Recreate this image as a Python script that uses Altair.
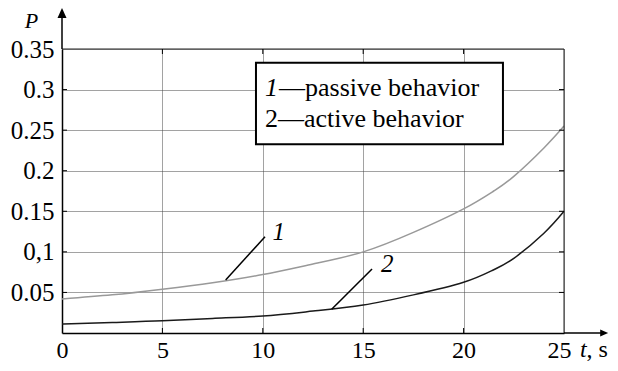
import altair as alt
import pandas as pd

# ---- data ----
t_vals = [0, 2.5, 5, 7.5, 10, 12.5, 15, 17.5, 20, 21.5, 22.5, 24, 25]
passive = [0.042, 0.047, 0.054, 0.062, 0.072, 0.085, 0.100, 0.124, 0.153, 0.175, 0.193, 0.228, 0.255]
active = [0.011, 0.013, 0.015, 0.018, 0.021, 0.027, 0.0345, 0.047, 0.0625, 0.078, 0.092, 0.123, 0.150]

x_ticks = [0, 5, 10, 15, 20, 25]
y_ticks = [0.05, 0.1, 0.15, 0.2, 0.25, 0.3, 0.35]
x_inner = [5, 10, 15, 20]
y_inner = [0.05, 0.1, 0.15, 0.2, 0.25, 0.3]

# curve label annotations
curve_labels = ["1", "2"]
label_t = [10.8, 16.2]
label_p = [0.125, 0.085]
lead_t1 = [8.15, 13.43]
lead_p1 = [0.0653, 0.0292]
lead_t2 = [10.11, 15.44]
lead_p2 = [0.1187, 0.0789]

# legend box (data coords) and lines
box_t = [9.66, 21.96]
box_p = [0.2326, 0.3332]
legend_num = ["1", "2"]
legend_rest = ["\u2014passive behavior", "\u2014active behavior"]

X_DOM = [0, 25]
Y_DOM = [0, 0.35]
FONT = "Liberation Serif, Times New Roman, serif"

xs = alt.Scale(domain=X_DOM, nice=False, zero=False)
ys = alt.Scale(domain=Y_DOM, nice=False, zero=False)

df = pd.DataFrame({"t": t_vals * 2,
                   "P": passive + active,
                   "s": ["passive"] * len(t_vals) + ["active"] * len(t_vals)})

base = alt.Chart(df)

x_axis = alt.Axis(values=x_ticks, tickSize=0, labelPadding=5, title=None,
                  grid=True, gridDash=[1, 1], gridColor="#444", gridWidth=1,
                  domainColor="black", domainWidth=1.5, labelFontSize=24,
                  labelFont=FONT, labelColor="black", labelFlush=False,
                  labelOffset={"condition": {"test": "datum.value == 25", "value": -5}, "value": 0})
y_axis = alt.Axis(values=y_ticks, tickSize=0, labelPadding=8, title=None,
                  format=".2~f",
                  labelExpr="datum.label == '0.1' ? '0,1' : datum.label",
                  grid=True, gridDash=[1, 1], gridColor="#444", gridWidth=1,
                  domainColor="black", domainWidth=1.5, labelFontSize=25,
                  labelFont=FONT, labelColor="black", labelFlush=False)

lines = base.mark_line(interpolate="natural", strokeWidth=1.5).encode(
    x=alt.X("t:Q", scale=xs, axis=x_axis),
    y=alt.Y("P:Q", scale=ys, axis=y_axis),
    color=alt.Color("s:N", scale=alt.Scale(domain=["passive", "active"],
                                           range=["#999999", "#1a1a1a"]),
                    legend=None),
)

ann = pd.DataFrame({"lab": curve_labels, "lt": label_t, "lp": label_p,
                    "t1": lead_t1, "p1": lead_p1, "t2": lead_t2, "p2": lead_p2})
leaders = alt.Chart(ann).mark_rule(color="black", strokeWidth=1.5).encode(
    x=alt.X("t1:Q", scale=xs), y=alt.Y("p1:Q", scale=ys),
    x2="t2:Q", y2="p2:Q")
lab_text = alt.Chart(ann).mark_text(font=FONT, fontSize=25, fontStyle="italic",
                                    baseline="middle", align="center",
                                    color="black").encode(
    x=alt.X("lt:Q", scale=xs), y=alt.Y("lp:Q", scale=ys), text="lab:N")

frame_top = alt.Chart(pd.DataFrame({"a": [X_DOM[0]], "b": [X_DOM[1]], "p": [Y_DOM[1]]})).mark_rule(
    color="#222", strokeWidth=1).encode(x=alt.X("a:Q", scale=xs), x2="b:Q", y=alt.Y("p:Q", scale=ys))
frame_right = alt.Chart(pd.DataFrame({"t": [X_DOM[1]], "a": [Y_DOM[0]], "b": [Y_DOM[1]]})).mark_rule(
    color="#222", strokeWidth=1).encode(x=alt.X("t:Q", scale=xs), y=alt.Y("a:Q", scale=ys), y2="b:Q")

xt = pd.DataFrame({"t": x_inner})
yt = pd.DataFrame({"p": y_inner})
tick_b = alt.Chart(xt).mark_rule(color="black", strokeWidth=1).encode(
    x=alt.X("t:Q", scale=xs), y=alt.value(284), y2=alt.value(279))
tick_t = alt.Chart(xt).mark_rule(color="black", strokeWidth=1).encode(
    x=alt.X("t:Q", scale=xs), y=alt.value(0), y2=alt.value(5))
tick_l = alt.Chart(yt).mark_rule(color="black", strokeWidth=1).encode(
    y=alt.Y("p:Q", scale=ys), x=alt.value(0), x2=alt.value(5))
tick_r = alt.Chart(yt).mark_rule(color="black", strokeWidth=1).encode(
    y=alt.Y("p:Q", scale=ys), x=alt.value(502), x2=alt.value(497))

box = alt.Chart(pd.DataFrame({"t1": [box_t[0]], "t2": [box_t[1]],
                              "p1": [box_p[0]], "p2": [box_p[1]]})).mark_rect(
    fill="white", stroke="black", strokeWidth=2).encode(
    x=alt.X("t1:Q", scale=xs), x2="t2:Q", y=alt.Y("p1:Q", scale=ys), y2="p2:Q")
leg = pd.DataFrame({"num": legend_num, "rest": legend_rest,
                    "full": [legend_num[0] + legend_rest[0], legend_num[1] + legend_rest[1]],
                    "p": [0.2924, 0.2535], "x1": [10.11, 10.11], "x2": [10.81, 10.81]})
leg1_num = alt.Chart(leg.iloc[[0]]).mark_text(font=FONT, fontSize=26, fontStyle="italic",
                                              align="left", baseline="alphabetic", color="black").encode(
    x=alt.X("x1:Q", scale=xs), y=alt.Y("p:Q", scale=ys), text="num:N")
leg1_rest = alt.Chart(leg.iloc[[0]]).mark_text(font=FONT, fontSize=26,
                                               align="left", baseline="alphabetic", color="black").encode(
    x=alt.X("x2:Q", scale=xs), y=alt.Y("p:Q", scale=ys), text="rest:N")
leg2 = alt.Chart(leg.iloc[[1]]).mark_text(font=FONT, fontSize=26,
                                          align="left", baseline="alphabetic", color="black").encode(
    x=alt.X("x1:Q", scale=xs), y=alt.Y("p:Q", scale=ys), text="full:N")

arrow_lines = alt.Chart(pd.DataFrame({"a": [25, 0], "b": [26.9, 0], "c": [0, 0.35], "d": [0, 0.392]})).mark_rule(
    color="black", strokeWidth=1.5).encode(x=alt.X("a:Q", scale=xs), x2="b:Q",
                                           y=alt.Y("c:Q", scale=ys), y2="d:Q")
arrow_x = alt.Chart(pd.DataFrame({"t": [27.0], "p": [0]})).mark_point(
    shape="M-1,-0.85L1,0L-1,0.85Z", size=64, filled=True, color="black", opacity=1).encode(
    x=alt.X("t:Q", scale=xs), y=alt.Y("p:Q", scale=ys))
arrow_y = alt.Chart(pd.DataFrame({"t": [0], "p": [0.3944]})).mark_point(
    shape="M-0.9,1L0,-1L0.9,1Z", size=100, filled=True, color="black", opacity=1).encode(
    x=alt.X("t:Q", scale=xs), y=alt.Y("p:Q", scale=ys))

titles = pd.DataFrame({"txt": ["P", "t", ", s"], "t": [-1.52, 25.8, 26.12],
                       "p": [0.3759, -0.0296, -0.0296]})
title_p = alt.Chart(titles.iloc[[0]]).mark_text(font=FONT, fontSize=22, fontStyle="italic",
                                                align="center", baseline="alphabetic", color="black").encode(
    x=alt.X("t:Q", scale=xs), y=alt.Y("p:Q", scale=ys), text="txt:N")
title_t = alt.Chart(titles.iloc[[1]]).mark_text(font=FONT, fontSize=24, fontStyle="italic",
                                                align="left", baseline="alphabetic", color="black").encode(
    x=alt.X("t:Q", scale=xs), y=alt.Y("p:Q", scale=ys), text="txt:N")
title_s = alt.Chart(titles.iloc[[2]]).mark_text(font=FONT, fontSize=24,
                                                align="left", baseline="alphabetic", color="black").encode(
    x=alt.X("t:Q", scale=xs), y=alt.Y("p:Q", scale=ys), text="txt:N")

chart = alt.layer(
    lines, leaders, lab_text, frame_top, frame_right,
    tick_b, tick_t, tick_l, tick_r,
    box, leg1_num, leg1_rest, leg2,
    arrow_lines, arrow_x, arrow_y, title_p, title_t, title_s,
).properties(
    width=502, height=284,
    padding={"left": 54, "top": 41, "right": 46, "bottom": 30},
    autosize=alt.AutoSizeParams(type="none"),
    background="white",
).configure_view(stroke=None)

chart.save("out.html", embed_options={"renderer": "svg", "actions": False})
